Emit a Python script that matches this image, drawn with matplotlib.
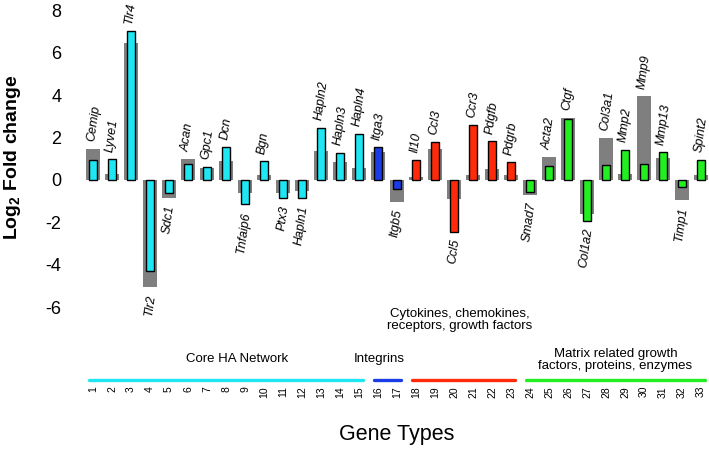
import numpy as np
import matplotlib
matplotlib.use('Agg')
import matplotlib.pyplot as plt

plt.rcParams['font.family'] = ['Liberation Sans', 'DejaVu Sans']
plt.rcParams['mathtext.fontset'] = 'custom'
plt.rcParams['mathtext.rm'] = 'Liberation Sans'
plt.rcParams['mathtext.bf'] = 'Liberation Sans:bold'

genes = ['Cemip', 'Lyve1', 'Tlr4', 'Tlr2', 'Sdc1', 'Acan', 'Gpc1', 'Dcn', 'Tnfaip6',
         'Bgn', 'Ptx3', 'Hapln1', 'Hapln2', 'Hapln3', 'Hapln4', 'Itga3', 'Itgb5',
         'Il10', 'Ccl3', 'Ccl5', 'Ccr3', 'Pdgfb', 'Pdgrb', 'Smad7', 'Acta2', 'Ctgf',
         'Col1a2', 'Col3a1', 'Mmp2', 'Mmp9', 'Mmp13', 'Timp1', 'Spint2']
grey_vals = [1.46, 0.28, 6.45, -5.05, -0.86, 0.98, 0.55, 0.89, -0.62, 0.23, -0.60,
             -0.52, 1.36, 0.85, 0.55, 1.31, -1.03, 0.14, 1.45, -0.88, 0.25, 0.52,
             0.23, -0.72, 1.09, 2.92, -1.60, 1.97, 0.28, 3.94, 1.03, -0.94, 0.23]
color_vals = [0.94, 0.98, 7.03, -4.30, -0.60, 0.74, 0.61, 1.55, -1.14, 0.88, -0.86,
              -0.86, 2.46, 1.27, 2.17, 1.55, -0.44, 0.92, 1.78, -2.44, 2.58, 1.83,
              0.83, -0.56, 0.64, 2.86, -1.93, 0.70, 1.41, 0.75, 1.31, -0.31, 0.95]

group_names = ['Core HA Network', 'Integrins',
               'Cytokines, chemokines,\nreceptors, growth factors',
               'Matrix related growth\nfactors, proteins, enzymes']
group_start = [1, 16, 18, 24]
group_end = [15, 17, 23, 33]
group_colors = ['#1ee6f2', '#1a3ce6', '#ff2a0a', '#22ee22']

# layout for group labels (x in bar units, y in data units)
group_label_x = [8.6, 16.05, 20.3, 28.5]
group_label_y = [-8.45, -8.45, -6.6, -8.5]

x = np.arange(1, len(genes) + 1)
bar_colors = []
for s, e, c in zip(group_start, group_end, group_colors):
    bar_colors += [c] * (e - s + 1)

fig = plt.figure(figsize=(7.09, 4.5), dpi=100)
ax = fig.add_axes([0.12, 0.0, 0.88, 1.0])

ax.bar(x, grey_vals, width=0.75, color='#7f7f7f', zorder=1)
ax.bar(x, color_vals, width=0.45, color=bar_colors, edgecolor='black',
       linewidth=1.0, zorder=2)

gap = 0.35
for xi, g, c, name in zip(x, grey_vals, color_vals, genes):
    if c >= 0:
        top = max(g, c)
        ax.text(xi - 0.1, top + gap, name, rotation=82, rotation_mode='anchor',
                ha='left', va='center', fontsize=9, style='italic')
    else:
        bot = min(g, c)
        ax.text(xi + 0.1, bot - gap, name, rotation=82, rotation_mode='anchor',
                ha='right', va='center', fontsize=9, style='italic')

# group lines, numbers and labels
for s, e, c, name, lx, ly in zip(group_start, group_end, group_colors,
                                 group_names, group_label_x, group_label_y):
    ax.plot([s - 0.2, e + 0.2], [-9.43, -9.43], color=c, lw=2.4,
            solid_capstyle='round')
    ax.text(lx, ly, name, ha='center', va='center', fontsize=9.5,
            linespacing=1.0)
for xi in x:
    ax.text(xi, -9.72, str(xi), rotation=90, ha='center', va='top', fontsize=7.5)

ax.text(17, -12.0, 'Gene Types', ha='center', va='center', fontsize=15.5)

ax.set_xlim(0.58, 33.42)
ax.set_ylim(-12.74, 8.49)
ax.set_yticks(np.arange(-6, 9, 2))
ax.set_yticklabels([str(v) for v in range(-6, 9, 2)], fontsize=13)
ax.tick_params(axis='y', length=0, pad=17)
ax.set_xticks([])
for sp in ax.spines.values():
    sp.set_visible(False)

fig.text(0.017, 0.65, r'Log$_{\mathbf{2}}$ Fold change', rotation=90,
         ha='center', va='center', fontsize=14, fontweight='bold')

fig.savefig('out.png', dpi=100)
